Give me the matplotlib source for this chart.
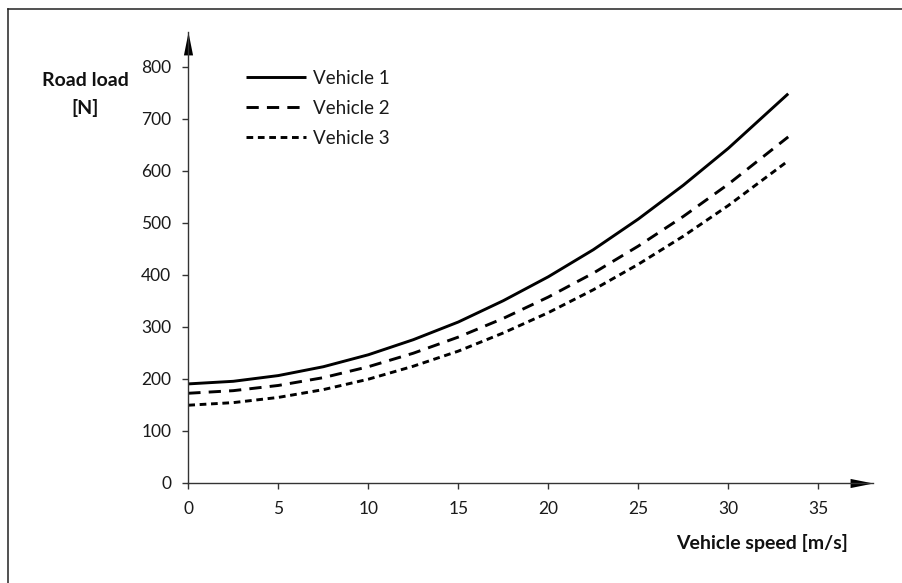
import matplotlib
matplotlib.use("Agg")
import matplotlib.pyplot as plt
from matplotlib.lines import Line2D
from matplotlib.path import Path

plt.rcParams['font.family'] = ['Lato', 'DejaVu Sans']

# ---- data ----
speed = [0, 2.5, 5, 7.5, 10, 12.5, 15, 17.5, 20, 22.5, 25, 27.5, 30, 33.33]
vehicle1 = [190, 195, 206, 223, 246, 275, 309, 350, 396, 448, 507, 572, 643, 748]
vehicle2 = [172, 177, 187, 202, 223, 249, 280, 316, 357, 403, 455, 512, 574, 665]
vehicle3 = [149, 154, 164, 179, 199, 224, 253, 288, 327, 371, 420, 474, 533, 619]
series_labels = ["Vehicle 1", "Vehicle 2", "Vehicle 3"]
x_ticks = [0, 5, 10, 15, 20, 25, 30, 35]
y_ticks = [0, 100, 200, 300, 400, 500, 600, 700, 800]

W, H = 902, 583
fig = plt.figure(figsize=(W / 100, H / 100), dpi=100)
ax = fig.add_axes([188.3 / W, 100.3 / H, 684.7 / W, 450.7 / H])

lw = 2.1
ax.plot(speed, vehicle1, color='black', lw=lw, solid_capstyle='butt', label=series_labels[0])
ax.plot(speed, vehicle2, color='black', lw=lw, linestyle=(0, (4.2, 2.8)), label=series_labels[1])
ax.plot(speed, vehicle3, color='black', lw=lw, linestyle=(0, (2.3, 1.6)), label=series_labels[2])

ax.set_xlim(0, 38.04)
ax.set_ylim(0, 866.7)
ax.set_xticks(x_ticks)
ax.set_yticks(y_ticks)

axis_col = '#333333'
for s in ['top', 'right']:
    ax.spines[s].set_visible(False)
for s in ['left', 'bottom']:
    ax.spines[s].set_color(axis_col)
    ax.spines[s].set_linewidth(1.0)
ax.tick_params(direction='out', length=4.3, width=1.0, color=axis_col,
               labelsize=12.5, labelcolor='#1a1a1a')
ax.tick_params(axis='x', pad=9)
ax.tick_params(axis='y', pad=8)

# arrow heads
right_tri = Path([(0, 0), (-1, 0.2), (-1, -0.2), (0, 0)],
                 [Path.MOVETO, Path.LINETO, Path.LINETO, Path.CLOSEPOLY])
up_tri = Path([(0, 0), (-0.2, -1), (0.2, -1), (0, 0)],
              [Path.MOVETO, Path.LINETO, Path.LINETO, Path.CLOSEPOLY])
ax.plot([1], [0], marker=right_tri, markersize=33, color='black', mew=0,
        transform=ax.transAxes, clip_on=False)
ax.plot([0], [1], marker=up_tri, markersize=33, color='black', mew=0,
        transform=ax.transAxes, clip_on=False)

# axis titles
ax.text(-0.1509, 0.8913, "Road load", transform=ax.transAxes, ha='center', va='center',
        fontsize=14, fontweight='bold', color='#111111')
ax.text(-0.1509, 0.8314, "[N]", transform=ax.transAxes, ha='center', va='center',
        fontsize=14, fontweight='bold', color='#111111')
ax.text(0.8379, -0.1331, "Vehicle speed [m/s]", transform=ax.transAxes, ha='center',
        va='center', fontsize=14, fontweight='bold', color='#111111')

# legend
leg = ax.legend(loc='upper left', bbox_to_anchor=(245.7 / W, 1 - 70 / H),
                bbox_transform=fig.transFigure, frameon=False, fontsize=13.5,
                handlelength=3.2, handletextpad=0.4, labelspacing=0.68,
                borderpad=0, borderaxespad=0)
for t in leg.get_texts():
    t.set_color('#1a1a1a')

# page frame (left and top edges)
fc = '#222222'
fig.add_artist(Line2D([8 / W, 8 / W], [0, 1 - 9 / H], transform=fig.transFigure,
                      color=fc, lw=1.1))
fig.add_artist(Line2D([8 / W, 1], [1 - 9 / H, 1 - 9 / H], transform=fig.transFigure,
                      color=fc, lw=1.1))

fig.savefig("out.png", dpi=100)
